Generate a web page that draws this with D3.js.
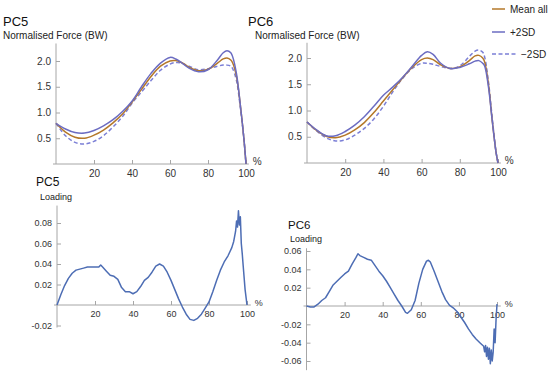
<!DOCTYPE html>
<html><head><meta charset="utf-8">
<script src="https://cdn.jsdelivr.net/npm/d3@7"></script>
<style>
body{margin:0;background:#fff;}
svg{display:block;font-family:"Liberation Sans",Arial,Helvetica,sans-serif;}
.tick text{fill:#333;}
</style></head><body>
<svg id="c" width="550" height="377"></svg>
<script>
// ---- data ----
const pct = [0,5,10,15,20,25,30,35,40,45,50,55,60,63,66,70,75,80,85,88,90,92,93,95,97,99,100];
const pc5Mean  = [0.79,0.62,0.52,0.50,0.56,0.66,0.80,0.97,1.20,1.45,1.70,1.90,2.00,2.01,1.97,1.88,1.81,1.84,1.96,2.04,2.06,2.02,1.96,1.70,1.15,0.45,0];
const pc5Plus  = [0.79,0.68,0.61,0.60,0.65,0.74,0.86,1.02,1.22,1.50,1.76,1.96,2.07,2.04,1.97,1.86,1.79,1.83,2.02,2.16,2.20,2.16,2.08,1.75,1.15,0.45,0];
const pc5Minus = [0.79,0.55,0.42,0.39,0.44,0.55,0.72,0.92,1.18,1.40,1.62,1.82,1.94,1.97,1.96,1.90,1.83,1.85,1.90,1.92,1.92,1.90,1.85,1.62,1.10,0.45,0];
const pc6Mean  = [0.78,0.62,0.51,0.48,0.53,0.63,0.77,0.96,1.18,1.40,1.62,1.82,1.97,2.00,1.97,1.87,1.80,1.83,1.95,2.04,2.05,2.00,1.93,1.50,0.80,0.20,0];
const pc6Plus  = [0.78,0.63,0.52,0.52,0.60,0.72,0.88,1.08,1.29,1.45,1.63,1.84,2.05,2.12,2.07,1.90,1.80,1.82,1.89,1.94,1.95,1.90,1.85,1.45,0.80,0.20,0];
const pc6Minus = [0.78,0.61,0.48,0.42,0.44,0.53,0.66,0.84,1.08,1.36,1.61,1.80,1.90,1.90,1.88,1.84,1.80,1.85,2.03,2.13,2.15,2.11,2.02,1.55,0.85,0.20,0];

const pc5LoadX = [0,2,4,6,8,10,12,14,16,18,20,22,23,24,26,28,30,32,34,36,38,40,42,44,46,48,50,52,54,56,58,60,62,64,66,68,70,72,74,76,78,80,82,84,86,88,90,91,92,93,94,94.5,95,95.5,96,96.5,97,97.5,98,99,100];
const pc5Load  = [0,0.010,0.019,0.026,0.031,0.034,0.035,0.036,0.037,0.037,0.037,0.037,0.039,0.037,0.033,0.029,0.028,0.025,0.017,0.013,0.013,0.011,0.013,0.018,0.024,0.027,0.032,0.038,0.040,0.038,0.032,0.024,0.015,0.006,-0.002,-0.009,-0.014,-0.015,-0.013,-0.009,-0.003,0.003,0.013,0.024,0.034,0.042,0.048,0.052,0.056,0.062,0.072,0.082,0.076,0.092,0.078,0.086,0.060,0.050,0.038,0.015,0];

const pc6LoadX = [0,2,4,6,8,10,12,14,16,18,20,22,24,26,27,28,30,32,34,36,38,40,42,44,46,48,50,52,53,55,57,59,61,63,64,65,67,69,71,73,75,77,79,81,83,85,87,89,91,92,93,93.5,94,94.5,95,95.5,96,96.5,97,97.5,98,98.5,99,99.5,100];
const pc6Load  = [0,-0.001,-0.001,0.002,0.006,0.009,0.016,0.023,0.027,0.031,0.035,0.038,0.046,0.053,0.057,0.055,0.053,0.051,0.050,0.044,0.038,0.033,0.027,0.020,0.013,0.006,0,-0.007,-0.008,-0.004,0.006,0.025,0.040,0.049,0.050,0.048,0.038,0.027,0.016,0.007,0.001,-0.002,-0.006,-0.012,-0.018,-0.025,-0.031,-0.036,-0.040,-0.042,-0.044,-0.050,-0.043,-0.055,-0.045,-0.058,-0.046,-0.063,-0.048,-0.060,-0.050,-0.025,-0.040,-0.015,0.002];

const xTicks = [20,40,60,80,100];
const forceTicks = [0.5,1.0,1.5,2.0];
const pc5LoadTicks = [-0.02,0.02,0.04,0.06,0.08];
const pc6LoadTicks = [-0.06,-0.04,-0.02,0.02,0.04,0.06];
const legendLabels = ["Mean all","+2SD","\u22122SD"];

// ---- styles ----
const cMean = "#b4782a", cPlus = "#6b6cc2", cMinus = "#7b7fd6", cLoad = "#4d6db4";
const axisCol = "#a6a6a6";

const svg = d3.select("#c");

function drawAxes(g, x, y, yTicks, yMinor, xMinor, fmt, fs, xEnd) {
  const x0 = x(0), y0 = y(0);
  g.append("line").attr("x1", x0 - 3).attr("x2", x(xEnd)).attr("y1", y0).attr("y2", y0)
    .attr("stroke", axisCol).attr("stroke-width", 1);
  g.append("line").attr("x1", x0).attr("x2", x0).attr("y1", y.range()[0]).attr("y2", y.range()[1])
    .attr("stroke", axisCol).attr("stroke-width", 1);
  const gx = g.append("g").attr("transform", `translate(0,${y0})`);
  gx.call(d3.axisBottom(x).tickValues(xMinor).tickSize(-2).tickFormat(""));
  gx.call(d3.axisBottom(x).tickValues(xTicks).tickSize(-4).tickPadding(4).tickFormat(d3.format("d")));
  gx.selectAll(".domain").remove();
  gx.selectAll("line").attr("stroke", axisCol);
  gx.selectAll("text").attr("font-size", fs).attr("font-family", "Liberation Sans, Arial, sans-serif").attr("dy", "0.9em");
  const gy = g.append("g").attr("transform", `translate(${x0},0)`);
  gy.call(d3.axisLeft(y).tickValues(yMinor).tickSize(-2).tickFormat(""));
  gy.call(d3.axisLeft(y).tickValues(yTicks).tickSize(-4).tickPadding(5).tickFormat(fmt));
  gy.selectAll(".domain").remove();
  gy.selectAll("line").attr("stroke", axisCol);
  gy.selectAll("text").attr("font-size", fs).attr("font-family", "Liberation Sans, Arial, sans-serif");
  g.append("text").attr("x", x(xEnd) + 4).attr("y", y0 + 1).attr("font-size", fs)
    .attr("fill", "#333").text("%");
}

function rangeStep(a, b, s) { const r = []; for (let v = a; v <= b + 1e-9; v += s) r.push(+v.toFixed(4)); return r; }
const xMinor = rangeStep(0, 100, 4);

function title(t, sub, x, yT, ySub, fsT, fsS, dxSub) {
  svg.append("text").attr("x", x).attr("y", yT).attr("font-size", fsT).attr("fill", "#111").text(t);
  svg.append("text").attr("x", x + dxSub).attr("y", ySub).attr("font-size", fsS).attr("fill", "#222").text(sub);
}

function forcePanel(xr, yZero, yTwo, yTop, series) {
  const x = d3.scaleLinear().domain([0, 100]).range(xr);
  const per = (yZero - yTwo) / 2;
  const y = d3.scaleLinear().domain([0, yTop]).range([yZero, yZero - yTop * per]);
  const g = svg.append("g");
  drawAxes(g, x, y, forceTicks, rangeStep(0.1, yTop, 0.1), xMinor, d3.format(".1f"), 10, 101.5);
  const line = d3.line().x((d, i) => x(pct[i])).y(d => y(d)).curve(d3.curveCatmullRom.alpha(0.5));
  series.forEach(s => {
    g.append("path").datum(s.v).attr("d", line).attr("fill", "none")
      .attr("stroke", s.c).attr("stroke-width", 1.5)
      .attr("stroke-dasharray", s.dash || null);
  });
}
forcePanel([56, 246], 164, 61, 2.34, [
  {v: pc5Minus, c: cMinus, dash: "4,2.5"},
  {v: pc5Mean, c: cMean},
  {v: pc5Plus, c: cPlus}
]);
forcePanel([307, 498], 163, 58, 2.29, [
  {v: pc6Minus, c: cMinus, dash: "4,2.5"},
  {v: pc6Mean, c: cMean},
  {v: pc6Plus, c: cPlus}
]);

function loadPanel(xr, yZero, yRef, refVal, dom, ticks, xs, vals) {
  const x = d3.scaleLinear().domain([0, 100]).range(xr);
  const per = (yZero - yRef) / refVal;
  const y = d3.scaleLinear().domain(dom).range([yZero - dom[0] * per, yZero - dom[1] * per]);
  const g = svg.append("g");
  drawAxes(g, x, y, ticks, rangeStep(-0.07, 0.1, 0.005).filter(v => v >= dom[0] && v <= dom[1]), xMinor,
    d => d3.format(".2f")(d).replace("\u2212", "-"), 9, 102);
  const line = d3.line().x((d, i) => x(xs[i])).y(d => y(d));
  g.append("path").datum(vals).attr("d", line).attr("fill", "none")
    .attr("stroke", cLoad).attr("stroke-width", 1.5).attr("stroke-linejoin", "round");
}
loadPanel([57, 247], 305, 223, 0.08, [-0.022, 0.097], pc5LoadTicks, pc5LoadX, pc5Load);
loadPanel([306.5, 497], 306, 251, 0.06, [-0.07, 0.063], pc6LoadTicks, pc6LoadX, pc6Load);

title("PC5", "Normalised Force (BW)", 3, 26, 39, 13, 10, 0);
title("PC6", "Normalised Force (BW)", 248, 26, 39, 13, 10, 7);
title("PC5", "Loading", 36, 186, 200, 12, 9, 4);
title("PC6", "Loading", 288, 229, 242, 11.5, 9, 2);

const leg = svg.append("g");
const legItems = [
  {c: cMean, dash: null, y: 9, x2: 505, tx: 510},
  {c: cPlus, dash: null, y: 32, x2: 505, tx: 510},
  {c: cMinus, dash: "4,2.5", y: 54, x2: 517, tx: 521}
];
legendLabels.forEach((t, i) => {
  const it = legItems[i];
  leg.append("line").attr("x1", 492).attr("x2", it.x2).attr("y1", it.y).attr("y2", it.y)
    .attr("stroke", it.c).attr("stroke-width", 1.5).attr("stroke-dasharray", it.dash);
  leg.append("text").attr("x", it.tx).attr("y", it.y + 3.5).attr("font-size", 10).attr("fill", "#222").text(t);
});
</script></body></html>
